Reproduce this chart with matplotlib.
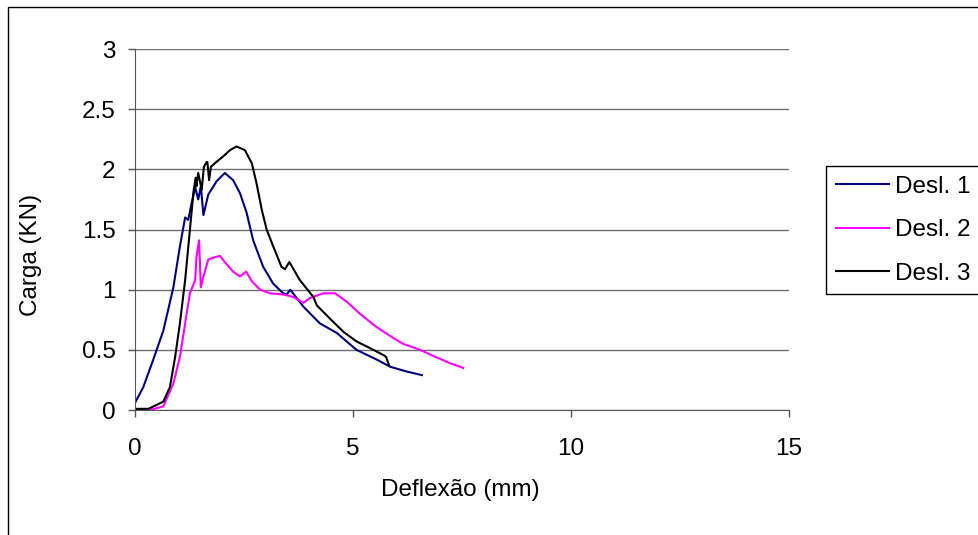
import matplotlib.pyplot as plt
from matplotlib.patches import Rectangle

plt.rcParams.update({'font.size': 17.5, 'font.family': 'Liberation Sans'})

# -------------------------------------------------------------------------------
# load vs. deflection curves (mm, KN)

x_desl1 = [0, 0.19, 0.42, 0.65, 0.88, 1.03, 1.15, 1.22, 1.30, 1.38, 1.45, 1.51,
           1.57, 1.68, 1.87, 2.06, 2.25, 2.41, 2.56, 2.71, 2.94, 3.17, 3.40, 3.48,
           3.56, 3.86, 4.24, 4.63, 5.08, 5.54, 5.85, 6.23, 6.58]
y_desl1 = [0.06, 0.19, 0.42, 0.66, 1.02, 1.36, 1.60, 1.58, 1.72, 1.85, 1.75, 1.86,
           1.62, 1.79, 1.90, 1.97, 1.91, 1.80, 1.64, 1.41, 1.19, 1.05, 0.97, 0.96,
           1.00, 0.86, 0.72, 0.64, 0.50, 0.42, 0.36, 0.32, 0.29]

x_desl2 = [0, 0.34, 0.65, 0.88, 1.03, 1.15, 1.26, 1.38, 1.41, 1.47, 1.51, 1.57,
           1.68, 1.83, 1.95, 2.06, 2.25, 2.41, 2.55, 2.68, 2.87, 3.10, 3.40, 3.63,
           3.86, 4.01, 4.32, 4.59, 4.86, 5.16, 5.54, 5.92, 6.15, 6.54, 6.84, 7.22, 7.53]
y_desl2 = [0.0, 0.0, 0.03, 0.22, 0.44, 0.72, 0.97, 1.08, 1.27, 1.41, 1.02, 1.11,
           1.25, 1.27, 1.28, 1.23, 1.15, 1.11, 1.15, 1.07, 1.00, 0.97, 0.96, 0.94,
           0.89, 0.93, 0.97, 0.97, 0.90, 0.80, 0.69, 0.60, 0.55, 0.50, 0.45, 0.39, 0.35]

x_desl3 = [0, 0.31, 0.65, 0.80, 0.92, 1.03, 1.15, 1.26, 1.34, 1.39, 1.41, 1.45,
           1.53, 1.58, 1.64, 1.66, 1.70, 1.74, 1.83, 2.03, 2.18, 2.33, 2.52, 2.68,
           2.79, 2.91, 3.02, 3.17, 3.36, 3.44, 3.54, 3.78, 4.09, 4.17, 4.47, 4.78,
           5.08, 5.47, 5.73, 5.76, 5.83]
y_desl3 = [0.01, 0.01, 0.07, 0.19, 0.44, 0.72, 1.08, 1.50, 1.81, 1.93, 1.86, 1.97,
           1.83, 2.02, 2.06, 2.06, 1.91, 2.02, 2.05, 2.11, 2.16, 2.19, 2.16, 2.05,
           1.88, 1.66, 1.50, 1.36, 1.19, 1.17, 1.23, 1.08, 0.94, 0.87, 0.76, 0.65,
           0.57, 0.50, 0.45, 0.44, 0.37]

x_ticks = [0, 5, 10, 15]
y_ticks = [0, 0.5, 1, 1.5, 2, 2.5, 3]

# -------------------------------------------------------------------------------

fig = plt.figure(figsize=(9.79, 5.35), dpi=100)
ax = fig.add_axes([0.1379, 0.2336, 0.668, 0.6748])

ax.plot(x_desl1, y_desl1, color='#000080', lw=1.5, label='Desl. 1')
ax.plot(x_desl2, y_desl2, color='#ff00ff', lw=1.5, label='Desl. 2')
ax.plot(x_desl3, y_desl3, color='black', lw=1.5, label='Desl. 3')

ax.set_xlim(0, 15)
ax.set_ylim(0, 3)
ax.set_xticks(x_ticks)
ax.set_yticks(y_ticks)
ax.set_yticklabels(['0', '0.5', '1', '1.5', '2', '2.5', '3'])
ax.tick_params(axis='y', direction='out', length=5, width=1, color='#555555', pad=9)
ax.tick_params(axis='x', direction='out', length=5, width=1, color='#555555', pad=15)

ax.yaxis.grid(True, color='#6f6f6f', lw=1)
ax.set_axisbelow(True)
for side in ['top', 'right']:
    ax.spines[side].set_visible(False)
for side in ['left', 'bottom']:
    ax.spines[side].set_color('#555555')

ax.set_xlabel('Deflexão (mm)')
ax.xaxis.set_label_coords(0.497, -0.19)
ax.set_ylabel('Carga (KN)')
ax.yaxis.set_label_coords(-0.142, 0.43)

leg = ax.legend(loc='upper left', bbox_to_anchor=(826 / 979, 1 - 166 / 535),
                bbox_transform=fig.transFigure, fancybox=False, shadow=False,
                framealpha=1, edgecolor='black', handlelength=2.2,
                handletextpad=0.25, borderpad=0.4, labelspacing=0.88,
                borderaxespad=0)
leg.get_frame().set_linewidth(1)

# outer chart frame
fig.patches.append(Rectangle((8 / 979, -0.1), 1.2, 1.1 - 7 / 535, fill=False,
                             edgecolor='black', lw=1, transform=fig.transFigure))

plt.savefig('out.png', dpi=100)
